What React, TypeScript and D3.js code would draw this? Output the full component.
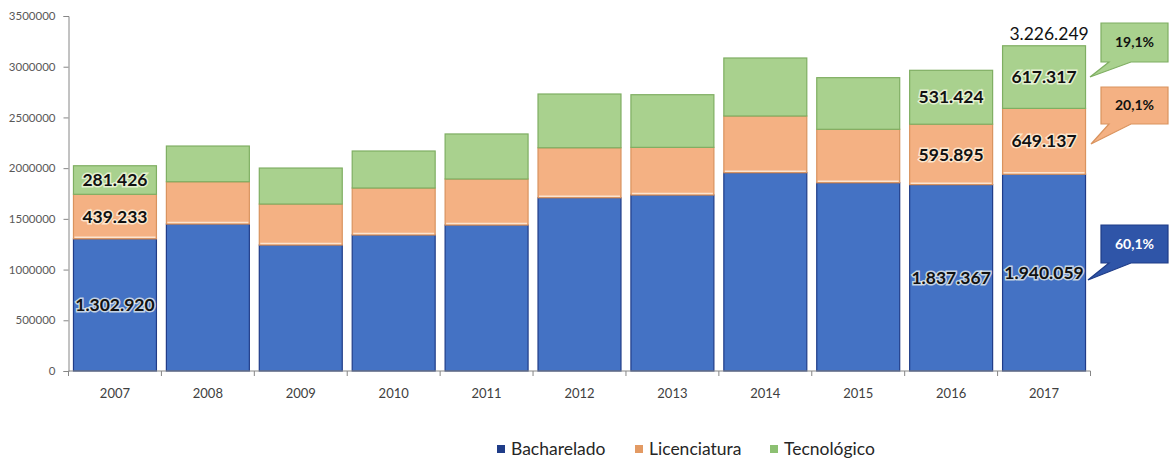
import { useEffect, useRef } from 'react';
import * as d3 from 'd3';

// Matrículas por grau acadêmico, 2007-2017
const years = ['2007', '2008', '2009', '2010', '2011', '2012', '2013', '2014', '2015', '2016', '2017'];
const bacharelado = [1302920, 1449000, 1242000, 1341000, 1439000, 1708000, 1735000, 1955000, 1856000, 1837367, 1940059];
const licenciatura = [439233, 417000, 404000, 463000, 454000, 493000, 470000, 559000, 527000, 595895, 649137];
const tecnologico = [281426, 352000, 355000, 365000, 444000, 530000, 519000, 572000, 509000, 531424, 617317];

const yTicks = [0, 500000, 1000000, 1500000, 2000000, 2500000, 3000000, 3500000];

// years that carry value labels, and the 2017 total / share callouts
const labelledYears = ['2007', '2016', '2017'];
const total2017 = '3.226.249';
const shares2017 = ['60,1%', '20,1%', '19,1%'];

const seriesNames = ['Bacharelado', 'Licenciatura', 'Tecnológico'];
const fills = ['#4472C4', '#F4B183', '#A9D18E'];
const strokes = ['#1F3C88', '#D9935E', '#7FAE62'];
const boxFills = ['#2F55A8', '#F4B183', '#A9D18E'];
const legendFills = ['#1F3C88', '#E39A63', '#8CC072'];

const fmt = (v: number) => d3.format(',')(v).replace(/,/g, '.');

const App = () => {
  const svgRef = useRef<SVGSVGElement>(null);

  useEffect(() => {
    const svg = d3.select(svgRef.current);
    svg.selectAll('*').remove();
    const font = 'Lato, "Open Sans", sans-serif';

    const x = d3.scaleBand<string>()
      .domain(years)
      .range([68.5, 1090.5])
      .paddingInner(0.107)
      .paddingOuter(0.0535);

    const y = d3.scaleLinear().domain([0, 3500000]).range([371, 16]);

    const rows = years.map((yr, i) => ({
      year: yr,
      Bacharelado: bacharelado[i],
      Licenciatura: licenciatura[i],
      'Tecnológico': tecnologico[i],
    }));
    const stacked = d3.stack<any>().keys(seriesNames)(rows);

    // y axis
    const yAxis = svg.append('g')
      .attr('transform', 'translate(68.5,0)')
      .call(d3.axisLeft(y).tickValues(yTicks).tickSize(5).tickPadding(8).tickFormat(d => String(d)));
    yAxis.selectAll('path,line').attr('stroke', '#868686');
    yAxis.selectAll('text').attr('fill', '#595959').style('font', `11.5px ${font}`);

    // bars
    stacked.forEach((layer, si) => {
      svg.append('g')
        .selectAll('rect')
        .data(layer)
        .enter()
        .append('rect')
        .attr('x', d => x(d.data.year)!)
        .attr('width', x.bandwidth())
        .attr('y', d => y(d[1]))
        .attr('height', d => y(d[0]) - y(d[1]))
        .attr('fill', fills[si])
        .attr('stroke', strokes[si])
        .attr('stroke-width', 1.2);
    });

    // light seam between blue and orange
    svg.append('g')
      .selectAll('line')
      .data(stacked[1])
      .enter()
      .append('line')
      .attr('x1', d => x(d.data.year)! + 1)
      .attr('x2', d => x(d.data.year)! + x.bandwidth() - 1)
      .attr('y1', d => y(d[0]) - 1.5)
      .attr('y2', d => y(d[0]) - 1.5)
      .attr('stroke', '#FCE4CF')
      .attr('stroke-width', 1.5);

    // x axis
    const xAxis = svg.append('g')
      .attr('transform', 'translate(0,371)');
    xAxis.append('line')
      .attr('x1', 68.5).attr('x2', 1090.5)
      .attr('stroke', '#868686');
    xAxis.selectAll('line.tick')
      .data(d3.range(years.length + 1))
      .enter()
      .append('line')
      .attr('x1', i => 68.5 + i * x.step())
      .attr('x2', i => 68.5 + i * x.step())
      .attr('y1', 0).attr('y2', 5)
      .attr('stroke', '#868686');
    xAxis.selectAll('text')
      .data(years)
      .enter()
      .append('text')
      .attr('x', d => x(d)! + x.bandwidth() / 2)
      .attr('y', 27)
      .attr('text-anchor', 'middle')
      .attr('fill', '#404040')
      .style('font', `13px ${font}`)
      .text(d => d);

    // value labels
    stacked.forEach(layer => {
      svg.append('g')
        .selectAll('text')
        .data(layer.filter(d => labelledYears.includes(d.data.year)))
        .enter()
        .append('text')
        .attr('x', d => x(d.data.year)! + x.bandwidth() / 2)
        .attr('y', d => (y(d[0]) + y(d[1])) / 2)
        .attr('dy', '0.35em')
        .attr('text-anchor', 'middle')
        .attr('fill', '#111')
        .attr('stroke', 'rgba(255,255,240,0.7)')
        .attr('stroke-width', 3)
        .attr('paint-order', 'stroke')
        .style('font', `bold 17.5px ${font}`)
        .text(d => fmt(d[1] - d[0]));
    });

    // 2017 total
    const last = stacked[2][years.length - 1];
    svg.append('text')
      .attr('x', x('2017')! + x.bandwidth() / 2 + 5)
      .attr('y', y(last[1]) - 6)
      .attr('text-anchor', 'middle')
      .attr('fill', '#111')
      .style('font', `17.5px ${font}`)
      .text(total2017);

    // share callouts
    const boxes = [
      { top: 225, bottom: 263 },
      { top: 87, bottom: 124 },
      { top: 23, bottom: 62 },
    ];
    const tips = [
      { x: 1088, y: 280 },
      { x: 1091, y: 144 },
      { x: 1090, y: 77 },
    ];
    boxes.forEach((b, i) => {
      const left = 1101;
      const right = 1168;
      const path = d3.path();
      path.moveTo(left, b.top);
      path.lineTo(right, b.top);
      path.lineTo(right, b.bottom);
      path.lineTo(left + 30, b.bottom);
      path.lineTo(tips[i].x, tips[i].y);
      path.lineTo(left + 8, b.bottom);
      path.lineTo(left, b.bottom);
      path.closePath();
      svg.append('path')
        .attr('d', path.toString())
        .attr('fill', boxFills[i])
        .attr('stroke', strokes[i])
        .attr('stroke-width', 1.2);
      svg.append('text')
        .attr('x', (left + right) / 2)
        .attr('y', (b.top + b.bottom) / 2)
        .attr('dy', '0.35em')
        .attr('text-anchor', 'middle')
        .attr('fill', i === 0 ? '#fff' : '#111')
        .style('font', `bold 14px ${font}`)
        .text(shares2017[i]);
    });

    // legend
    const legendX = [497, 635, 770];
    const legend = svg.append('g');
    seriesNames.forEach((name, i) => {
      legend.append('rect')
        .attr('x', legendX[i]).attr('y', 445)
        .attr('width', 8).attr('height', 8)
        .attr('fill', legendFills[i]);
      legend.append('text')
        .attr('x', legendX[i] + 14)
        .attr('y', 449)
        .attr('dy', '0.35em')
        .attr('fill', '#262626')
        .style('font', `17.5px ${font}`)
        .text(name);
    });
  }, []);

  return (
    <svg ref={svgRef} width={1170} height={460}
      style={{ position: 'absolute', left: 0, top: 0, background: '#fff' }} />
  );
};

export default App;
